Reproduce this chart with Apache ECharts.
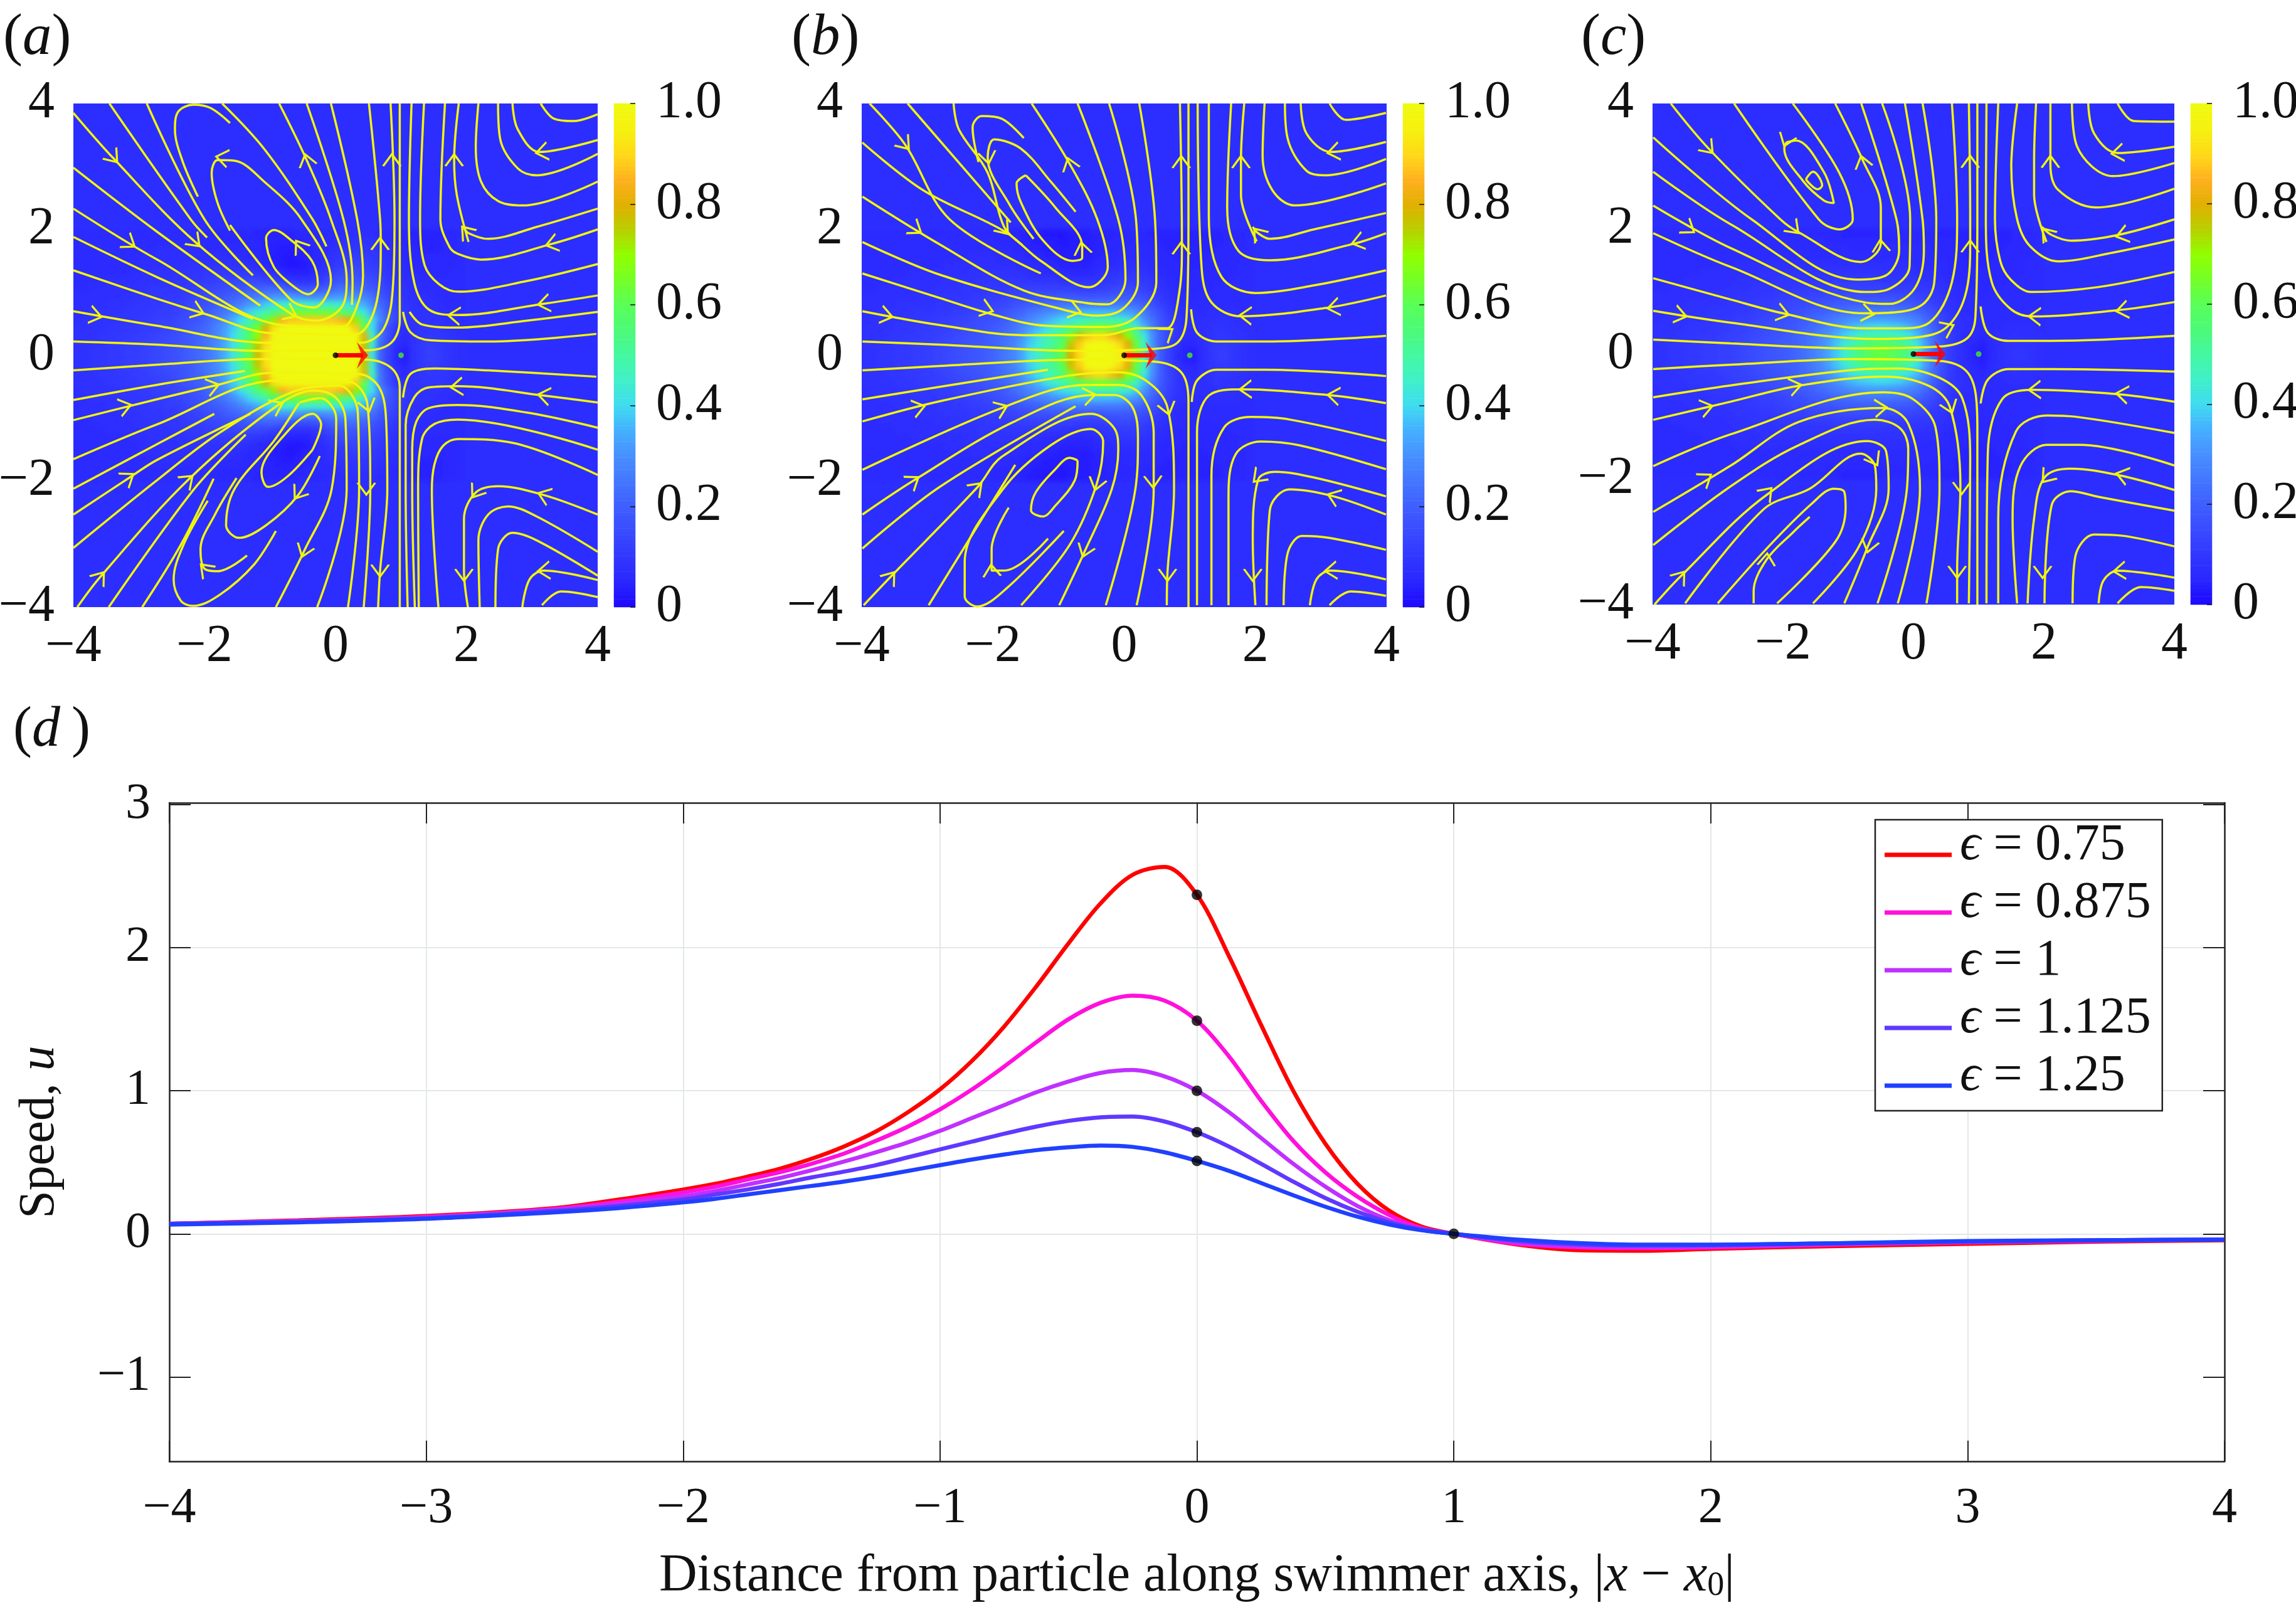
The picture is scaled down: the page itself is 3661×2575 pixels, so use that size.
<!DOCTYPE html>
<html><head><meta charset="utf-8">
<style>html,body{margin:0;padding:0;background:#fff}
#page{position:relative;width:3661px;height:2575px;overflow:hidden}
#c{position:absolute;left:0;top:0;width:3661px;height:2575px;z-index:2}
.clip{position:absolute;overflow:hidden;z-index:1}
.heat{position:absolute;filter:blur(4px)}</style>
<script src="https://cdn.jsdelivr.net/npm/echarts@6/dist/echarts.min.js"></script>
</head><body><div id="page"><div id="c"></div></div>
<script>
// ---------- panel (d) data ----------
const xD=[-4,-3.5,-3,-2.5,-2.25,-2,-1.875,-1.75,-1.625,-1.5,-1.375,-1.25,-1.125,-1,-.875,-.75,-.625,-.5,-.375,-.25,-.125,0,.125,.25,.375,.5,.625,.75,.875,1,1.25,1.5,1.75,2,2.5,3,3.5,4];
const u075=[.07,.095,.125,.18,.24,.31,.35,.40,.455,.525,.61,.715,.85,1.01,1.21,1.45,1.73,2.03,2.31,2.51,2.565,2.37,1.94,1.46,1.0,.63,.35,.16,.05,0,-.075,-.115,-.118,-.105,-.085,-.07,-.055,-.045];
const u0875=[.07,.09,.12,.175,.225,.29,.33,.38,.43,.49,.56,.65,.75,.87,1.01,1.17,1.34,1.50,1.615,1.665,1.63,1.49,1.24,.93,.65,.43,.26,.13,.04,0,-.07,-.095,-.1,-.095,-.075,-.06,-.05,-.04];
const u100=[.07,.09,.115,.17,.21,.263,.30,.345,.39,.445,.505,.57,.64,.72,.81,.90,.99,1.065,1.125,1.145,1.10,1.0,.85,.67,.49,.33,.195,.095,.03,0,-.06,-.085,-.09,-.085,-.07,-.055,-.045,-.04];
const u1125=[.07,.085,.11,.16,.195,.24,.275,.31,.35,.395,.435,.48,.535,.59,.645,.70,.75,.79,.815,.82,.785,.71,.61,.49,.365,.25,.155,.08,.03,0,-.05,-.075,-.082,-.08,-.065,-.055,-.045,-.04];
const u125=[.065,.08,.105,.15,.18,.22,.245,.275,.305,.335,.365,.40,.44,.48,.52,.555,.585,.605,.617,.608,.57,.51,.44,.355,.27,.19,.12,.065,.025,0,-.04,-.065,-.075,-.075,-.065,-.05,-.045,-.04];
const curveNames=['0.75','0.875','1','1.125','1.25'];
const curveColors=['#ff0000','#ff10dd','#c030ff','#6038ff','#2040ff'];
const dotsD=[[0,2.37],[0,1.49],[0,1.0],[0,.71],[0,.51],[1,0]];
const ticksY=[-1,0,1,2,3];
const cmap=['#1e0aff','#2a28ff','#3238ff','#3a4cff','#3f60ff','#4478ff','#4890ff','#44b0ff','#40dcf0','#40f0c8','#44f8a0','#4cfa78','#58ff58','#74ff28','#90ff00','#b8d000','#e0b000','#ffb020','#ffd818','#f6f010','#f0fa10'];

// ---------- speed fields (percent), x = -3.94..1.94 by .125, rows y = .06..1.94, mirrored about y = 0 ----------
const fieldA=[
[8,8,9,9,10,10,11,11,12,13,14,15,16,18,20,22,25,29,35,42,52,62,78,92,100,100,100,100,100,100,100,100,100,100,100,78,42,20,12,5,3,8,10,12,11,9,8,7],
[8,8,9,9,10,10,11,11,12,13,14,15,16,17,19,22,25,29,34,41,50,60,75,90,100,100,100,100,100,100,100,100,100,100,100,76,44,22,13,7,5,8,10,11,10,9,8,7],
[8,8,8,9,9,10,10,11,11,12,13,14,15,17,19,21,24,28,33,40,49,58,70,85,100,100,100,100,100,100,100,100,100,100,100,82,46,24,15,8,6,8,9,10,9,9,8,7],
[8,8,8,8,9,9,10,10,11,11,12,13,14,16,18,20,23,27,32,38,46,55,65,80,92,100,100,100,100,100,100,100,100,100,88,62,40,24,15,9,7,8,9,9,9,8,7,7],
[7,8,8,8,8,9,9,10,10,11,12,12,13,15,16,18,21,25,29,35,41,48,55,62,72,85,88,88,88,88,88,88,86,82,72,56,40,28,19,13,10,8,8,8,8,7,7,6],
[7,7,8,8,8,8,9,9,10,10,11,11,12,14,15,17,19,22,25,29,34,39,44,49,54,60,63,64,64,64,63,62,60,56,50,42,34,25,18,13,10,8,8,8,7,7,6,6],
[7,7,7,7,8,8,8,9,9,10,10,11,11,12,14,15,17,19,21,24,27,31,34,38,41,44,45,45,45,44,44,44,43,41,38,34,28,22,16,12,9,8,7,7,7,6,6,6],
[7,7,7,7,7,7,8,8,9,9,9,10,10,11,12,13,15,16,18,20,22,24,26,28,30,31,31,30,29,28,29,30,31,31,29,27,23,18,14,11,8,7,7,7,6,6,6,6],
[6,6,7,7,7,7,7,8,8,9,9,9,9,10,11,12,13,14,15,16,17,19,20,21,21,20,18,16,16,17,18,21,23,23,23,21,18,15,12,9,8,7,6,6,6,6,6,6],
[6,6,6,6,7,7,7,7,8,8,8,8,9,9,10,10,11,12,13,13,14,14,14,13,12,11,9,8,8,9,12,15,17,18,18,17,15,13,10,8,7,6,6,6,6,6,6,6],
[6,6,6,6,6,6,6,7,7,8,8,8,8,8,9,9,10,10,10,10,10,10,9,8,7,5,4,4,4,6,9,11,14,15,15,14,13,11,9,7,6,6,5,5,5,5,6,6],
[6,6,6,6,6,6,6,6,7,7,7,7,7,8,8,8,8,8,8,8,8,7,6,5,4,3,2,2,3,5,7,9,11,12,13,12,11,10,8,7,6,5,5,5,5,5,5,6],
[6,6,6,6,6,6,6,6,7,7,7,7,7,7,7,7,7,7,7,7,6,5,5,4,3,3,2,3,4,5,6,8,9,10,11,11,10,9,7,6,5,5,5,5,5,5,5,6],
[6,6,6,6,6,6,6,6,6,6,7,7,7,7,7,7,6,6,6,6,6,5,5,4,4,3,3,4,4,5,6,7,8,9,9,9,9,8,7,6,5,5,4,4,4,5,5,6],
[6,6,6,6,6,6,6,6,6,6,6,6,6,6,6,6,6,6,5,5,5,5,5,4,4,4,4,4,5,5,6,6,7,8,8,8,8,7,6,5,5,4,4,4,4,5,5,6],
[6,6,6,6,6,6,6,6,5,6,6,6,6,6,6,6,5,5,5,5,5,5,4,4,4,4,4,5,5,5,5,6,6,7,7,7,7,6,6,5,5,4,4,4,4,5,5,6]];
const fieldB=[
[8,8,9,9,10,10,11,11,12,13,14,15,16,17,18,20,22,25,28,33,40,45,50,55,62,80,90,100,100,100,100,95,84,64,46,30,18,12,7,4,3,7,9,11,11,9,8,7],
[8,8,9,9,10,10,11,11,12,13,14,15,16,17,18,19,21,24,27,32,38,43,48,52,60,76,88,98,100,100,98,90,80,62,45,30,19,12,8,5,5,7,9,10,10,9,8,7],
[8,8,8,9,9,10,10,11,11,12,13,14,15,16,17,19,21,23,26,30,36,41,46,50,56,66,78,87,90,90,86,80,70,57,42,29,19,13,9,7,6,7,8,9,9,8,8,7],
[8,8,8,8,9,9,10,10,11,11,12,13,14,15,16,17,19,21,24,28,32,36,41,45,49,54,58,62,64,64,63,60,55,47,36,26,18,13,9,7,7,7,8,9,8,8,7,7],
[7,8,8,8,8,9,9,10,10,11,11,12,13,14,15,16,17,19,22,25,28,31,34,37,40,43,46,48,49,49,49,47,44,38,30,23,17,12,9,7,7,7,7,8,8,7,7,6],
[7,7,8,8,8,8,9,9,9,10,10,11,11,12,13,14,15,17,19,21,24,26,28,30,32,34,35,36,36,36,36,35,33,30,25,20,15,11,8,7,7,6,7,7,7,7,6,6],
[7,7,7,7,8,8,8,8,8,9,9,10,10,11,11,12,13,14,16,17,19,20,22,23,24,25,25,25,25,25,25,25,24,22,19,16,12,9,7,6,6,6,6,6,6,6,6,6],
[7,7,7,7,7,7,7,8,8,8,9,9,9,10,10,11,11,12,13,14,15,16,16,17,17,17,17,17,17,17,18,18,18,17,15,13,10,8,6,6,5,6,6,6,6,6,6,6],
[6,6,7,7,7,7,7,7,7,8,8,8,9,9,9,10,10,10,11,11,12,12,12,12,12,12,11,11,11,12,13,14,14,13,12,10,8,7,6,5,5,5,5,6,6,6,6,6],
[6,6,6,6,7,7,7,7,7,7,8,8,8,8,9,9,9,9,9,9,9,9,9,9,8,8,8,8,8,9,10,11,11,11,10,9,7,6,5,5,5,5,5,5,5,6,6,6],
[6,6,6,6,6,6,7,7,7,7,7,7,7,8,8,8,8,8,8,8,7,7,6,6,6,5,5,5,6,7,8,9,9,9,8,7,6,5,5,5,5,5,5,5,5,5,6,6],
[6,6,6,6,6,6,6,6,6,6,7,7,7,7,7,7,7,7,7,6,6,6,5,5,4,4,4,4,5,5,6,7,7,7,7,6,5,5,5,4,4,5,5,5,5,5,6,6],
[6,6,6,6,6,6,6,6,6,6,6,6,6,7,7,7,6,6,6,6,5,5,4,4,3,3,3,3,4,5,5,6,6,6,6,6,5,5,4,4,4,4,5,5,5,5,5,6],
[6,6,6,6,6,6,6,6,6,6,6,6,6,6,6,6,6,6,5,5,4,4,3,3,3,3,3,3,4,4,5,5,6,6,6,5,5,4,4,4,4,4,4,5,5,5,5,6],
[6,6,6,6,6,6,6,6,6,6,6,6,6,6,6,6,5,5,5,4,4,3,3,3,2,3,3,3,4,4,5,5,5,5,5,5,4,4,4,4,4,4,4,4,5,5,5,6],
[6,6,6,6,6,6,6,6,5,5,6,6,6,6,5,5,5,5,4,4,3,3,2,2,2,3,3,3,4,4,4,5,5,5,5,4,4,4,4,4,4,4,4,4,5,5,5,6]];
const fieldC=[
[8,8,9,9,10,10,11,11,12,12,13,14,15,16,17,18,19,21,23,26,29,33,38,44,50,55,59,62,62,60,57,52,44,33,23,16,11,8,6,4,3,5,7,8,9,9,8,7],
[8,8,9,9,10,10,11,11,12,12,13,14,15,16,17,18,19,20,22,25,28,32,37,42,47,52,55,57,58,56,53,48,41,32,23,16,11,8,6,5,4,6,7,8,8,8,8,7],
[8,8,8,9,9,10,10,10,11,12,12,13,14,15,16,17,18,20,22,24,27,30,34,38,42,45,47,48,48,47,45,41,36,29,22,15,11,8,6,6,5,6,7,7,8,7,7,7],
[8,8,8,8,9,9,9,10,10,11,12,12,13,14,15,16,17,18,20,22,24,27,30,33,36,38,39,40,40,39,38,35,31,26,20,14,10,8,7,6,6,6,6,7,7,7,7,6],
[7,8,8,8,8,8,9,9,10,10,11,11,12,13,14,15,16,17,19,20,22,24,26,28,30,31,32,32,32,31,30,28,26,22,17,13,10,8,7,6,6,6,6,6,6,6,6,6],
[7,7,8,8,8,8,8,9,9,9,10,10,11,12,12,13,14,15,16,18,19,20,22,23,24,25,25,25,25,25,24,23,21,18,15,11,9,7,6,6,6,6,6,6,6,6,6,6],
[7,7,7,7,8,8,8,8,8,9,9,10,10,11,11,12,13,14,14,15,16,17,18,19,19,20,20,20,20,19,19,18,16,14,12,10,8,7,6,6,6,6,6,6,6,6,6,6],
[7,7,7,7,7,7,7,8,8,8,9,9,9,10,10,11,11,12,12,13,13,14,14,15,15,15,15,15,15,15,14,14,13,12,10,9,7,6,6,6,5,6,6,6,6,6,6,6],
[6,6,7,7,7,7,7,7,7,8,8,8,9,9,9,10,10,10,10,11,11,11,12,12,12,12,12,12,12,11,11,11,10,10,9,8,7,6,5,5,5,5,5,6,6,6,6,6],
[6,6,6,6,7,7,7,7,7,7,8,8,8,8,8,9,9,9,9,9,9,9,10,10,10,10,10,10,9,9,9,9,9,8,8,7,6,5,5,5,5,5,5,5,5,6,6,6],
[6,6,6,6,6,6,7,7,7,7,7,7,7,8,8,8,8,8,8,8,8,8,8,8,8,8,8,8,8,8,8,8,7,7,7,6,5,5,5,5,5,5,5,5,5,5,6,6],
[6,6,6,6,6,6,6,6,6,6,7,7,7,7,7,7,7,7,7,7,7,7,7,7,7,7,7,7,7,7,7,7,6,6,6,6,5,5,5,4,4,5,5,5,5,5,6,6],
[6,6,6,6,6,6,6,6,6,6,6,6,6,6,6,6,6,6,6,6,6,6,6,6,6,6,6,6,6,6,6,6,6,6,6,5,5,5,4,4,4,4,5,5,5,5,5,6],
[6,6,6,6,6,6,6,6,6,6,6,6,6,6,6,6,6,6,6,6,6,6,6,6,5,5,5,5,6,6,6,6,6,6,5,5,5,4,4,4,4,4,4,5,5,5,5,6],
[6,6,6,6,6,6,6,6,6,6,6,6,6,6,6,6,6,6,6,6,6,5,5,5,5,5,5,5,5,5,5,5,5,5,5,5,5,4,4,4,4,4,4,4,5,5,5,6],
[6,6,6,6,6,6,6,6,6,6,6,6,6,6,6,5,5,5,5,5,5,5,5,4,4,4,4,4,5,5,5,5,5,5,5,4,4,4,4,4,4,4,4,4,5,5,5,6]];

// ---------- streamlines ----------
const streamA=[
[[-3.45,4],[-2.21,2.16],[-1.96,1.87]],
[[-2.88,4],[-2,2.16],[-1.26,1.27]],
[[-4,2.98],[-2.72,1.96],[-1.15,.79]],
[[-4,3.85],[-3.39,3.13],[-2.14,1.8],[-.68,.66],[-.3,.55],[.09,.76],[.17,1.2],[-.07,2.16],[-.44,3.1],[-.86,4]],
[[-4,2.33],[-2.72,1.52],[-.74,.47],[.1,.45],[.31,.73],[.42,1.26],[.33,2.16],[-.07,4]],
[[-4,1.88],[-2.72,1.24],[-1.26,.58]],
[[-4,1.35],[-2.73,.9],[-1.97,.65],[-.97,.35],[.29,.33],[.63,.86],[.69,1.78],[.68,2.16],[.51,4]],
[[-4,.7],[-2.73,.47],[-1.03,.2],[.39,.2],[.74,.43],[.88,1.16],[.9,2.16],[.84,4]],
[[-4,.22],[-2.73,.17],[-1.13,.07],[.47,.08],[.85,.2],[.98,.56],[.98,2.16],[.98,4]],
[[-4,-.24],[-2.73,-.15],[-1.13,-.06],[.47,-.07],[.85,-.2],[.98,-.5],[.98,-2],[.98,-4]],
[[-4,-.71],[-2.73,-.47],[-1.38,-.25]],
[[-4,-1.03],[-2.73,-.7],[-1.8,-.47],[-.97,-.28],[.36,-.3],[.66,-.5],[.77,-1],[.79,-2.13],[.68,-3.42],[.65,-4]],
[[-4,-1.65],[-2.73,-1.1],[-.87,-.4],[.21,-.42],[.49,-.8],[.53,-2.13],[.43,-4]],
[[-4,-2.12],[-2.72,-1.41],[-1.85,-.93]],
[[-4,-2.53],[-3.14,-1.94],[-2.72,-1.66],[-1.3,-.93]],
[[-4,-3.06],[-2.73,-1.99],[-1.77,-1.23],[-.65,-.58],[.05,-.48],[.34,-.9],[.36,-2.13],[.19,-4]],
[[-3.94,-4],[-3.59,-3.52],[-2.25,-1.98],[-.89,-.8],[-.33,-.56],[-.01,-.66],[.15,-1],[.17,-2.13],[-.28,-4]],
[[-.91,-4],[-.48,-3.11],[-.06,-2.13],[.01,-1],[-.23,-.68],[-.55,-.75]],
[[-2.95,-4],[-2.36,-3.01],[-1.86,-1.96]],
[[-3.46,-4],[-2.17,-2.14],[-1.37,-1.26]],
[[-1.95,-2.31],[-2.32,-3.01],[-2.47,-3.56],[-2.36,-3.9],[-2.17,-3.98],[-1.76,-3.8],[-1.24,-3.32],[-.91,-2.79]],
[[-1.51,-1.95],[-1.84,-2.53],[-2.06,-3.08],[-2,-3.39],[-1.8,-3.43],[-1.35,-3.18]],
[[-.24,-1.6],[-.57,-2.22],[-1.06,-2.7],[-1.47,-2.9],[-1.67,-2.7],[-1.54,-2.12],[-.94,-1.36],[-.56,-.76]],
[[-.35,-1.5],[-.74,-1.93],[-1.03,-2.09],[-1.13,-1.86],[-.81,-1.3],[-.35,-.93],[-.22,-1.1],[-.35,-1.5]],
[[-1.61,3.69],[-1.91,3.93],[-2.17,3.98],[-2.4,3.87],[-2.45,3.59],[-2.34,3.1],[-2.1,2.52]],
[[-1.61,1.98],[-1.8,2.42],[-1.89,2.9],[-1.8,3.1],[-1.54,3.09],[-1.09,2.76],[-.52,2.16],[-.07,1.19],[-.33,.76],[-.68,.88],[-1.61,2.07]],
[[-.66,1.11],[-.42,.97],[-.27,1.13],[-.36,1.5],[-.68,1.83],[-.94,1.99],[-1.06,1.86],[-.94,1.4],[-.66,1.11]],
[[-1.73,4],[-1.09,3.28],[-.35,2.16],[-.14,1.73]],
[[-.44,4],[.12,2.16],[.26,1.16],[.25,.8]],
[[3.98,.34],[2.33,.22],[1.44,.24],[1.14,.37],[1.03,.69]],
[[4,.69],[2.92,.55],[1.87,.44],[1.32,.49],[1.13,.69]],
[[4,.95],[3.18,.82],[1.87,.64],[1.42,.73],[1.2,1.16],[1.12,2.16],[1.16,4]],
[[4,1.45],[2.92,1.18],[1.87,1.01],[1.58,1.13],[1.36,1.43],[1.29,2.16],[1.35,4]],
[[4,2],[3.3,1.77],[2.22,1.52],[1.87,1.61],[1.74,1.72],[1.6,2.16],[1.67,4]],
[[1.88,4],[1.81,3.1],[1.85,2.55],[2.03,1.8]],
[[4,2.33],[3.07,2.04],[2.33,1.85],[2.03,1.94],[1.96,2.02]],
[[2.18,4],[2.14,3.31],[2.22,2.76],[2.48,2.45],[2.85,2.38],[4,2.76]],
[[2.48,4],[2.51,3.45],[2.78,2.97],[3.07,2.86],[4,3.2]],
[[2.7,4],[2.78,3.59],[3.11,3.23],[4,3.42]],
[[3.13,4],[3.33,3.76],[3.63,3.72],[4,3.83]],
[[3.98,-.34],[2.33,-.24],[1.51,-.21],[1.14,-.3],[1.03,-.67]],
[[4,-.75],[3.18,-.64],[1.87,-.49],[1.42,-.51],[1.2,-.67],[1.07,-1.11],[1.07,-2.14],[1.1,-4]],
[[4,-1.15],[2.92,-.91],[1.87,-.79],[1.42,-.84],[1.23,-1.06],[1.17,-1.5],[1.17,-2.14],[1.21,-4]],
[[4,-1.5],[1.87,-1.02],[1.51,-1.09],[1.32,-1.33],[1.26,-2.14],[1.27,-4]],
[[4,-1.9],[2.7,-1.39],[1.87,-1.33],[1.64,-1.44],[1.51,-1.73],[1.47,-2.14],[1.57,-4]],
[[4,-2.53],[3.18,-2.22],[2.48,-2.08],[2.14,-2.18],[1.96,-2.6],[1.96,-3.42],[2.02,-4]],
[[4,-3.12],[3.07,-2.56],[2.63,-2.4],[2.33,-2.53],[2.18,-2.94],[2.2,-4]],
[[4,-3.5],[3.07,-2.94],[2.7,-2.82],[2.48,-3.08],[2.44,-4]],
[[2.85,-4],[2.96,-3.56],[3.18,-3.42],[4,-3.57]],
[[3.15,-3.97],[3.44,-3.75],[4,-3.84]]];
const arrowsA=[[-3.39,3.14,-50],[-2.14,1.8,-45],[-3.14,1.78,-35],[-2.1,.7,-20],[-3.66,.63,-13],[-1.87,-.49,15],[-3.21,-.81,15],[-3.16,-1.94,35],[-2.25,-1.98,42],[-3.59,-3.52,52],[-.89,-.8,25],[-.68,.66,-25],[-.44,3.1,105],[-1.73,3.14,170],[-.55,1.74,125],[.68,1.77,90],[.86,3.1,90],[1.81,3.1,90],[1.99,1.97,130],[3.3,1.77,195],[3.15,3.23,190],[3.18,.82,190],[1.81,.63,175],[1.85,-.5,185],[3.18,-.64,170],[3.18,-2.22,160],[2.14,-2.18,235],[1.96,-3.49,270],[3.18,-3.42,185],[.68,-3.42,270],[.47,-2.12,270],[.49,-.8,285],[-.57,-2.2,235],[-.48,-3.11,250],[-1.99,-3.39,135]];

const streamB=[
[[-3.88,4],[-3.34,3.35],[-2.66,2.16],[-1.27,1.3]],
[[-3.99,3.38],[-3.06,2.62],[-1.81,1.96],[-1.27,1.5],[-.54,1.08],[-.25,1.4],[-.41,2.16],[-.83,3.04],[-1.41,4]],
[[-3.99,2.52],[-2.81,1.76],[-1.53,1.03],[-.57,.83],[-.25,.81],[.02,1.2],[-.09,2.16],[-.71,4]],
[[-3.99,1.8],[-2.81,1.28],[-.76,.68],[-.41,.63],[-.03,.73],[.21,1.16],[.18,2.16],[-.23,4]],
[[-3.99,1.3],[-2.81,.91],[-2.04,.66],[-1.21,.47],[-.31,.45],[.17,.6],[.49,1.16],[.47,2.16],[.23,4]],
[[-3.99,.7],[-2.81,.48],[-1.53,.32],[-.31,.32],[.23,.43],[.65,.43],[.84,1],[.88,1.76],[.85,4]],
[[-3.99,.22],[-2.81,.17],[-.7,.07],[.42,.1],[.81,.2],[.95,.6],[.98,2.16],[.98,4]],
[[-3.99,-.24],[-2.81,-.17],[-.7,-.07],[.45,-.1],[.87,-.27],[.98,-.73],[.98,-2],[.98,-4]],
[[-3.99,-.7],[-2.81,-.5],[-1.16,-.23]],
[[-3.99,-1.05],[-2.81,-.73],[-.89,-.33],[-.12,-.27],[.33,-.4],[.66,-.83],[.76,-2.13],[.66,-3.45],[.65,-3.97]],
[[-3.99,-1.82],[-1.85,-.83],[-.57,-.47],[-.09,-.47],[.26,-.63],[.45,-1.23],[.45,-2.13],[.19,-3.97]],
[[-3.99,-2.53],[-3.21,-1.99],[-1.69,-1.06],[-.47,-.63],[-.15,-.63],[.13,-.83],[.21,-1.33],[.17,-2.13],[-.28,-3.97]],
[[-3.99,-3.07],[-2.81,-2.09],[-.74,-.81]],
[[-3.97,-3.97],[-3.56,-3.52],[-2.24,-2.1],[-1.85,-1.6],[-.5,-.93],[-.15,-1.16],[-.09,-1.5],[-.19,-2.13],[-.6,-3.11],[-.99,-3.97]],
[[-2.98,-3.97],[-1.66,-1.74]],
[[-1.57,-3.97],[-.83,-3.01],[-.42,-2.05],[-.32,-1.37],[-.51,-1.17],[-1.12,-1.43],[-1.85,-2.13],[-2.43,-3.28],[-2.43,-3.83],[-2.24,-3.99],[-1.79,-3.7],[-.92,-2.79]],
[[-1.76,-2.42],[-2.02,-3.08],[-2.02,-3.42],[-1.83,-3.42],[-1.16,-2.91]],
[[-.71,-1.67],[-.83,-1.63],[-1.05,-1.81],[-1.35,-2.18],[-1.42,-2.46],[-1.24,-2.56],[-1.05,-2.39],[-.75,-1.98],[-.71,-1.67]],
[[-3.3,4],[-1.73,2.11]],
[[-1.53,3.45],[-1.87,3.76],[-2.17,3.8],[-2.31,3.62],[-2.22,3.07]],
[[-2.6,4],[-2.52,3.59],[-2.08,2.9],[-1.83,2.04],[-1.55,1.75]],
[[-1.38,1.85],[-1.75,2.4],[-2.08,3.14],[-1.98,3.43],[-1.57,3.28],[-1.12,2.76],[-.74,2.28]],
[[-1.5,2.86],[-1.05,2.35],[-.64,1.73],[-.64,1.55],[-.79,1.5],[-1.24,1.83],[-1.57,2.42],[-1.64,2.73],[-1.5,2.86]],
[[3.99,.31],[2.15,.22],[1.41,.22],[1.11,.36],[1.02,.73]],
[[3.99,.95],[3.12,.76],[1.78,.62],[1.33,.84],[1.18,1.39],[1.12,4]],
[[3.99,1.35],[2.89,1.11],[2,.99],[1.48,1.25],[1.29,2.21],[1.29,4]],
[[3.99,1.94],[3.49,1.77],[2.22,1.51],[1.74,1.66],[1.57,2.35],[1.63,4]],
[[1.83,4],[1.78,3.1],[1.78,2.55],[2.02,1.81]],
[[3.99,2.26],[2.89,2],[2.22,1.85],[2.04,1.94],[1.96,2.04]],
[[2.14,4],[2.11,3.17],[2.26,2.62],[2.6,2.38],[3.99,2.73]],
[[2.45,4],[2.49,3.45],[2.78,2.93],[3.08,2.86],[3.99,3.12]],
[[2.69,4],[2.78,3.52],[3.15,3.23],[3.99,3.39]],
[[3.13,4],[3.38,3.74],[3.99,3.85]],
[[3.99,-.33],[2.15,-.23],[1.41,-.23],[1.11,-.4],[1.03,-.74]],
[[3.99,-.76],[3.19,-.64],[1.78,-.54],[1.29,-.64],[1.11,-1.22],[1.11,-3.97]],
[[3.99,-1.36],[2.52,-1.02],[1.93,-.98],[1.52,-1.15],[1.33,-1.91],[1.33,-3.97]],
[[3.99,-1.81],[2.67,-1.43],[2.08,-1.37],[1.7,-1.57],[1.59,-2.25],[1.59,-3.97]],
[[3.99,-2.24],[2.89,-1.94],[2.3,-1.85],[2.04,-1.98],[1.96,-2.94],[2,-3.97]],
[[3.99,-2.53],[3.19,-2.24],[2.52,-2.13],[2.22,-2.46],[2.17,-3.97]],
[[3.99,-3.09],[3.12,-2.9],[2.71,-2.87],[2.49,-3.15],[2.43,-3.97]],
[[2.83,-3.97],[2.93,-3.56],[3.15,-3.42],[3.99,-3.56]],
[[3.13,-3.97],[3.45,-3.75],[3.99,-3.82]]];
const arrowsB=[[-3.34,3.35,-50],[-3.17,2,-35],[-2.09,.73,-18],[-3.62,.63,-13],[-.75,.71,-15],[.66,.36,35],[-3.13,-.83,15],[-1.87,-.84,22],[-.53,-.64,10],[-3.21,-1.99,35],[-2.24,-2.1,45],[-3.56,-3.52,52],[.66,-.85,285],[.44,-2.01,272],[.66,-3.49,270],[-.42,-2.05,255],[-.6,-3.11,250],[-2.02,-3.42,95],[-.83,3.04,108],[-1.83,2,-50],[-2.08,3.14,280],[-.64,1.7,100],[.87,3.07,90],[.87,1.7,90],[1.78,3.07,90],[2.04,1.94,130],[3.56,1.8,195],[3.19,3.23,190],[3.19,.76,190],[1.85,.63,178],[1.85,-.54,182],[3.19,-.64,172],[3.19,-2.24,160],[2.04,-1.94,225],[1.96,-3.49,270],[3.15,-3.42,185]];

const streamC=[
[[-3.72,4],[-3.14,3.28],[-2.04,2.15],[-1.77,1.95],[-.81,1.47],[-.5,1.77],[-.5,2.34],[-.78,3.1],[-1.2,4]],
[[-2.75,4],[-1.45,2.15],[-1.13,1.99],[-.93,2.15],[-1.14,2.9],[-1.85,4]],
[[-3.99,3.46],[-2.48,2.15],[-.88,1.19],[-.43,1.25],[-.22,1.65],[-.26,2.15],[-.8,4]],
[[-3.99,2.91],[-2.8,2.07],[-.72,.99],[-.37,1.04],[-.06,1.39],[-.05,2.15],[-.48,4]],
[[-3.99,2.37],[-2.8,1.69],[-.72,.82],[-.37,.8],[.02,1.05],[.16,1.65],[.14,2.15],[-.13,4]],
[[-3.99,1.93],[-2.8,1.39],[-.75,.65],[-.24,.67],[.15,.8],[.32,1.15],[.35,2.15],[.14,4]],
[[-3.99,1.21],[-2.8,.87],[-2,.65],[-.75,.41],[-.24,.41],[.24,.5],[.59,1.15],[.67,2.15],[.59,4]],
[[-3.99,.69],[-2.8,.5],[-.56,.24],[.08,.27],[.5,.42],[.79,.92],[.87,1.75],[.87,2.15],[.85,4]],
[[-3.99,.23],[-2.8,.17],[-.88,.09],[.4,.12],[.82,.25],[.95,.59],[.98,2.15],[.98,4]],
[[-3.99,-.24],[-2.8,-.17],[-.88,-.08],[.4,-.11],[.79,-.25],[.95,-.61],[.98,-1.18],[.98,-4]],
[[-3.99,-.69],[-2.8,-.5],[-.88,-.25],[-.24,-.23],[.4,-.38],[.75,-.71],[.87,-1.68],[.85,-3.98]],
[[-3.99,-1.05],[-2.8,-.76],[-1.78,-.51],[-.43,-.36],[.24,-.51],[.56,-.85],[.72,-2.11],[.67,-3.45],[.67,-3.98]],
[[-3.99,-1.79],[-2.8,-1.28],[-.46,-.61],[-.02,-.71],[.34,-1.18],[.4,-2.15],[.2,-3.98]],
[[-3.99,-2.52],[-2.8,-1.78],[-1.75,-1.08],[-.46,-.86],[-.08,-1.11],[.1,-2.15],[-.24,-3.98]],
[[-3.99,-3.05],[-2.8,-2.11],[-1.75,-1.45],[-.59,-1.05],[-.21,-1.18],[-.08,-1.51],[-.1,-2.15],[-.55,-3.98]],
[[-3.97,-4],[-3.57,-3.55],[-2.24,-2.24],[-.71,-1.39],[-.42,-1.55],[-.38,-2.15],[-.71,-3.1],[-1.06,-3.98]],
[[-3.5,-3.98],[-2.3,-2.48],[-1.59,-2.15],[-.81,-1.59],[-.59,-1.79],[-.57,-2.15],[-.85,-3.1],[-1.54,-3.98]],
[[-3,-3.98],[-2.2,-3.05],[-1.55,-2.38],[-1.22,-2.15],[-1.06,-2.2],[-1.04,-2.45],[-1.2,-3],[-2.09,-3.98]],
[[-2.45,-3.98],[-2.45,-3.79],[-2.25,-3.28],[-1.85,-2.85],[-1.59,-2.6]],
[[-1.95,3.38],[-1.8,3.41],[-1.37,2.9],[-1.22,2.41],[-1.37,2.45],[-1.69,2.76],[-1.98,3.28],[-1.95,3.38]],
[[-1.65,2.79],[-1.54,2.91],[-1.4,2.69],[-1.47,2.63],[-1.65,2.79]],
[[4,.29],[2.12,.21],[1.46,.21],[1.14,.34],[1.03,.76]],
[[4,.83],[3.13,.7],[1.83,.6],[1.49,.72],[1.2,1.15],[1.11,2.15],[1.12,4]],
[[4,1.31],[2.84,1.07],[1.81,.99],[1.49,1.19],[1.33,1.49],[1.25,2.15],[1.3,4]],
[[4,1.83],[3.06,1.62],[2.22,1.48],[1.79,1.72],[1.59,2.15],[1.5,3],[1.59,4]],
[[4,2.15],[3.13,1.9],[2.41,1.81],[2.12,1.9],[1.97,2.03]],
[[2.04,1.79],[1.85,2.55],[1.85,3.1],[1.88,4]],
[[4,2.64],[2.8,2.34],[2.22,2.62],[2.1,3.03],[2.1,4]],
[[4,3.05],[3.06,2.84],[2.51,3.31],[2.43,4]],
[[4,3.31],[3.13,3.21],[2.77,3.52],[2.68,4]],
[[4,3.71],[3.38,3.72],[3.13,4]],
[[4,-.28],[2.12,-.24],[1.46,-.24],[1.14,-.41],[1.03,-.79]],
[[4,-.76],[3.13,-.64],[1.83,-.57],[1.36,-.72],[1.14,-1.59],[1.12,-3.98]],
[[4,-1.26],[2.48,-1],[2.04,-.98],[1.57,-1.24],[1.3,-2.62],[1.3,-3.98]],
[[4,-1.78],[2.55,-1.45],[2.04,-1.45],[1.64,-1.79],[1.52,-2.62],[1.59,-3.98]],
[[4,-2.17],[3.13,-1.93],[2.41,-1.83],[2.01,-1.97],[1.85,-2.62],[1.75,-3.98]],
[[4,-2.5],[2.84,-2.28],[2.41,-2.19],[2.12,-2.41],[2.01,-3.98]],
[[4,-3.07],[3.2,-2.9],[2.77,-2.88],[2.48,-3.24],[2.44,-3.98]],
[[2.84,-3.98],[2.91,-3.62],[3.13,-3.46],[4,-3.57]],
[[3.13,-3.98],[3.49,-3.72],[4,-3.78]]];
const arrowsC=[[-3.14,3.28,-48],[-3.44,2,-35],[-1.83,2,-45],[-3.57,.62,-13],[-2,.65,-15],[-.7,.65,-10],[-.5,1.73,95],[-.78,3.07,105],[-1.95,3.41,250],[.53,.42,25],[.87,3.07,90],[.87,1.72,90],[2.1,3.07,90],[2.04,1.93,130],[3.2,1.9,195],[3.13,3.21,188],[3.2,.7,190],[1.86,.6,178],[1.86,-.57,182],[3.2,-.64,172],[3.2,-1.93,165],[2.04,-1.97,230],[1.98,-3.48,270],[3.16,-3.46,185],[-1.81,-.51,12],[-3.17,-.85,14],[-3.18,-1.98,35],[-2.24,-2.21,47],[-3.57,-3.55,52],[-.5,-.86,5],[-.6,-1.69,300],[.56,-.85,290],[.74,-2.14,270],[.67,-3.48,270],[-.68,-3.07,255],[-2.25,-3.28,85]];

const swimmerTail=[[0,0],[.42,0]];
const arrowHead=[[.41,0]];
const particle=[[0,0]];
const stagnation=[[1,0]];

// ---------- layout ----------
const FONT='"Liberation Serif","Times New Roman",serif';
const BG='#2c2eff';
const panels=[
 {tag:'a',L:117,R:953,T:165,B:968,cL:979,cR:1013,lab:0,f:fieldA,s:streamA,ar:arrowsA},
 {tag:'b',L:1374,R:2211,T:165,B:968,cL:2237,cR:2271,lab:1257,f:fieldB,s:streamB,ar:arrowsB},
 {tag:'c',L:2635,R:3467,T:165,B:964,cL:3493,cR:3527,lab:2516,f:fieldC,s:streamC,ar:arrowsC}];
const fmt=v=>String(v).replace('-','\u2212');
const grid=[],xAxis=[],yAxis=[],series=[],title=[];
const catCells=Array.from({length:64},(_,i)=>i);
const barCells=Array.from({length:128},(_,i)=>i);
const barValues=barCells.map(i=>i/127);
const CHEVRON='path://M0,0L10,7L0,14';
const REDHEAD='path://M0,0L18,21.5L0,43L8,21.5Z';
const noZero={show:false,onZero:false};
const STREAM='#f2f60c';

panels.forEach(p=>{
  // speed field: its own ECharts layer below the marks, softened and clipped to the plot square
  const M=24,w=p.R-p.L,h=p.B-p.T;
  const clip=document.createElement('div');clip.className='clip';
  clip.style.cssText=`left:${p.L}px;top:${p.T}px;width:${w}px;height:${h}px`;
  const inner=document.createElement('div');inner.className='heat';
  inner.style.cssText=`left:${-M}px;top:${-M}px;width:${w+2*M}px;height:${h+2*M}px`;
  clip.appendChild(inner);document.getElementById('page').appendChild(clip);
  const cells=[];
  p.f.forEach((row,r)=>row.forEach((v,c)=>{cells.push([c,32+r,v/100]);cells.push([c,31-r,v/100]);}));
  echarts.init(inner,null,{renderer:'canvas',width:w+2*M,height:h+2*M,devicePixelRatio:1}).setOption({
    animation:false,backgroundColor:BG,
    grid:{left:M,top:M,width:w,height:h,outerBoundsMode:'none'},
    xAxis:{type:'category',data:catCells,show:false},yAxis:{type:'category',data:catCells,show:false},
    visualMap:{type:'continuous',show:false,min:0,max:1,dimension:2,inRange:{color:cmap}},
    series:[{type:'heatmap',data:cells,progressive:0,itemStyle:{borderWidth:0},emphasis:{disabled:true},silent:true}]});

  const g=grid.length;
  grid.push({left:p.L,top:p.T,width:w,height:h,show:false,outerBoundsMode:'none'});
  const xv=xAxis.length,yv=yAxis.length;
  xAxis.push({gridIndex:g,type:'value',min:-4,max:4,interval:2,axisLine:noZero,axisTick:{show:false},splitLine:{show:false},axisLabel:{fontFamily:FONT,fontSize:84,color:'#111',margin:22,formatter:fmt}});
  yAxis.push({gridIndex:g,type:'value',min:-4,max:4,interval:2,axisLine:noZero,axisTick:{show:false},splitLine:{show:false},axisLabel:{fontFamily:FONT,fontSize:84,color:'#111',margin:30,formatter:fmt}});
  p.s.forEach(l=>series.push({type:'line',xAxisIndex:xv,yAxisIndex:yv,data:l,showSymbol:false,smooth:.35,lineStyle:{color:STREAM,width:3.5},silent:true,z:3,animation:false}));
  series.push({type:'scatter',xAxisIndex:xv,yAxisIndex:yv,data:p.ar,symbol:CHEVRON,symbolSize:[19,28],symbolRotate:(v)=>v[2],itemStyle:{color:'transparent',borderColor:STREAM,borderWidth:3,opacity:1},silent:true,z:4,animation:false});
  series.push({type:'line',xAxisIndex:xv,yAxisIndex:yv,data:swimmerTail,showSymbol:false,lineStyle:{color:'#ff0000',width:7},silent:true,z:5,animation:false});
  series.push({type:'scatter',xAxisIndex:xv,yAxisIndex:yv,data:arrowHead,symbol:REDHEAD,symbolSize:[18,43],itemStyle:{color:'#ff0000'},silent:true,z:5,animation:false});
  series.push({type:'scatter',xAxisIndex:xv,yAxisIndex:yv,data:particle,symbol:'circle',symbolSize:9,itemStyle:{color:'#000'},silent:true,z:6,animation:false});
  series.push({type:'scatter',xAxisIndex:xv,yAxisIndex:yv,data:stagnation,symbol:'circle',symbolSize:9,itemStyle:{color:'#44ee22'},silent:true,z:6,animation:false});
  // colour bar
  const gb=grid.length;
  grid.push({left:p.cL,top:p.T,width:p.cR-p.cL,height:p.B-p.T,show:false,outerBoundsMode:'none'});
  const xb=xAxis.length,yb=yAxis.length;
  xAxis.push({gridIndex:gb,type:'category',data:[0],show:false});
  yAxis.push({gridIndex:gb,type:'category',data:barCells,show:false});
  yAxis.push({gridIndex:gb,type:'value',position:'right',min:0,max:1,interval:.2,axisLine:noZero,splitLine:{show:false},
    axisTick:{show:true,inside:true,length:8,lineStyle:{color:'#111',width:1.5}},
    axisLabel:{fontFamily:FONT,fontSize:84,color:'#111',margin:33,formatter:v=>v===0?'0':v.toFixed(1)},z:3});
  series.push({type:'heatmap',xAxisIndex:xb,yAxisIndex:yb,data:barCells.map(i=>[0,i,barValues[i]]),progressive:0,animation:false,itemStyle:{borderWidth:0},emphasis:{disabled:true},silent:true,z:1});
  title.push({text:'({i|'+p.tag+'})',left:p.lab,top:10,textStyle:{fontFamily:FONT,fontSize:93,fontWeight:'normal',color:'#111',rich:{i:{fontFamily:FONT,fontSize:93,fontStyle:'italic',color:'#111'}}}});
});
title.push({text:'({i|d}\u2009)',left:16,top:1115,textStyle:{fontFamily:FONT,fontSize:90,fontWeight:'normal',color:'#111',rich:{i:{fontFamily:FONT,fontSize:90,fontStyle:'italic',color:'#111'}}}});

// panel (d)
const gd=grid.length;
grid.push({left:270,top:1280,width:3277,height:1050,show:false,outerBoundsMode:'none'});
const dX=xAxis.length,dY=yAxis.length;
const gridLine={show:true,showMinLine:false,showMaxLine:false,lineStyle:{color:'#e4e7e7',width:2}};
const frame={show:true,onZero:false,lineStyle:{color:'#222',width:2.5}};
xAxis.push({gridIndex:gd,type:'value',min:-4,max:4,interval:1,axisLine:frame,
  axisTick:{show:true,inside:true,length:33,lineStyle:{color:'#222',width:2}},splitLine:gridLine,
  axisLabel:{fontFamily:FONT,fontSize:80,color:'#111',margin:36,formatter:fmt},
  name:'Distance from particle along swimmer axis, |{i|x} \u2212 {i|x}{s|0}|',nameLocation:'middle',nameGap:142,
  nameTextStyle:{fontFamily:FONT,fontSize:84,color:'#111',rich:{i:{fontFamily:FONT,fontSize:84,fontStyle:'italic',color:'#111'},s:{fontFamily:FONT,fontSize:54,color:'#111',verticalAlign:'bottom',lineHeight:60}}}});
yAxis.push({gridIndex:gd,type:'value',min:-1.59,max:3.013,axisLine:frame,
  axisTick:{show:true,inside:true,length:34,customValues:ticksY,lineStyle:{color:'#222',width:2}},splitLine:gridLine,
  axisLabel:{customValues:ticksY,fontFamily:FONT,fontSize:80,color:'#111',margin:30,formatter:fmt},
  name:'Speed, {i|u}',nameLocation:'middle',nameGap:166,nameRotate:90,
  nameTextStyle:{fontFamily:FONT,fontSize:80,color:'#111',rich:{i:{fontFamily:FONT,fontSize:80,fontStyle:'italic',color:'#111'}}}});
xAxis.push({gridIndex:gd,type:'value',position:'top',min:-4,max:4,interval:1,axisLine:frame,
  axisTick:{show:true,inside:true,length:33,lineStyle:{color:'#222',width:2}},splitLine:{show:false},axisLabel:{show:false}});
yAxis.push({gridIndex:gd,type:'value',position:'right',min:-1.59,max:3.013,axisLine:frame,
  axisTick:{show:true,inside:true,length:34,customValues:ticksY,lineStyle:{color:'#222',width:2}},splitLine:{show:false},axisLabel:{show:false,customValues:ticksY}});
[u075,u0875,u100,u1125,u125].forEach((u,i)=>{
  series.push({type:'line',name:curveNames[i],xAxisIndex:dX,yAxisIndex:dY,data:xD.map((x,k)=>[x,u[k]]),showSymbol:false,smooth:.33,
    lineStyle:{color:curveColors[i],width:6.5},itemStyle:{color:curveColors[i]},silent:true,z:3+i,animation:false});
});
series.push({type:'scatter',xAxisIndex:dX,yAxisIndex:dY,data:dotsD,symbol:'circle',symbolSize:17,itemStyle:{color:'#000'},silent:true,z:10,animation:false});

const chart=echarts.init(document.getElementById('c'),null,{renderer:'canvas',width:3661,height:2575,devicePixelRatio:1});
const heatIdx=series.map((s,i)=>s.type==='heatmap'?i:-1).filter(i=>i>=0);
chart.setOption({
  animation:false,backgroundColor:'transparent',title,grid,xAxis,yAxis,series,
  tooltip:{show:false},
  visualMap:[{type:'continuous',show:false,min:0,max:1,seriesIndex:heatIdx,dimension:2,inRange:{color:cmap}}],
  legend:{data:curveNames,orient:'vertical',left:2990,top:1307,padding:[0,18,14,15],itemWidth:107,itemHeight:7,itemGap:10,icon:'rect',
    backgroundColor:'#fff',borderColor:'#222',borderWidth:2.5,
    formatter:n=>'{e|\u03f5}{n| = '+n+'}',
    textStyle:{fontFamily:FONT,fontSize:82,color:'#111',rich:{
      e:{fontFamily:FONT,fontSize:82,fontStyle:'italic',color:'#111',padding:[0,0,30,8]},
      n:{fontFamily:FONT,fontSize:82,color:'#111',padding:[0,0,30,0]}}},z:20}
});
</script></body></html>
